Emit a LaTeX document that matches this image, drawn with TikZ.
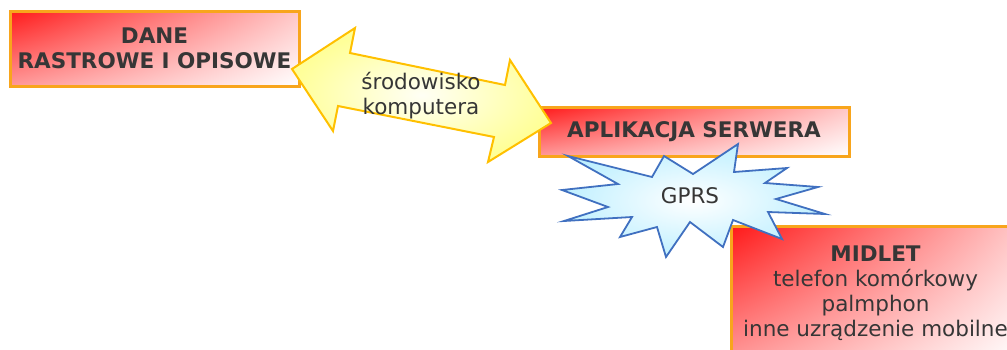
\documentclass[tikz,border=0pt]{standalone}
\usepackage{fontspec}
\setmainfont{DejaVu Sans}
\usetikzlibrary{positioning,shadings}
\definecolor{boxedge}{HTML}{F8A51C}
\definecolor{txtgray}{HTML}{363636}
\definecolor{arrowedge}{HTML}{FFC000}
\definecolor{arrowfill}{HTML}{FFFF80}
\definecolor{burstedge}{HTML}{4070C0}
\definecolor{burstfill}{HTML}{C0F0FF}
\newcommand{\txtfont}{\fontsize{21.5}{25}\selectfont}

\begin{document}
\begin{tikzpicture}[x=1pt,y=-1pt,
    redbox/.style={draw=boxedge, line width=3pt, shade,
        upper left=red!90!white, upper right=red!22!white,
        lower left=red!40!white, lower right=white,
        align=center, text=txtgray, font=\txtfont, inner sep=0pt},
    plaintext/.style={align=center, text=txtgray, font=\txtfont}]
    \useasboundingbox (0,0) rectangle (1007,349);
    \clip (0,0) rectangle (1007,349);
    \node[redbox, minimum width=289, minimum height=75] (dane) at (154.5,48.5)
        {\textbf{DANE}\\\textbf{RASTROWE I OPISOWE}};
    \node[redbox, minimum width=310, minimum height=49] (serwer) at (694,131.5)
        {\textbf{APLIKACJA SERWERA}};
    \node[redbox, minimum width=289, minimum height=134] (midlet) at (875.5,293)
        {\textbf{MIDLET}\\telefon komórkowy\\palmphon\\inne uzrądzenie mobilne};
    % yellow double arrow
    \shadedraw[draw=arrowedge, line width=2pt, inner color=arrowfill!8!white, outer color=arrowfill!80!white]
        (292,69) -- (355,28) -- (350,53) -- (505,85) -- (510,60) -- (551,123)
        -- (488,162) -- (494,137) -- (338,106) -- (333,131) -- cycle;
    \node[plaintext] (srodowisko) at (421,96) {środowisko\\komputera};
    % GPRS burst
    \shadedraw[draw=burstedge, line width=1.8pt, inner color=white, outer color=burstfill]
        (568,156) -- (652,177) -- (664,156) -- (693,174) -- (738,144) -- (734,172)
        -- (787,168) -- (765,183) -- (818,187) -- (776,199) -- (825,214) -- (768,212)
        -- (782,239) -- (733,220) -- (723,247) -- (690,222) -- (666,257) -- (657,227)
        -- (620,237) -- (632,217) -- (564,221) -- (608,207) -- (562,190) -- (618,184)
        -- cycle;
    \node[plaintext] (gprs) at (690,196) {GPRS};
\end{tikzpicture}
\end{document}
